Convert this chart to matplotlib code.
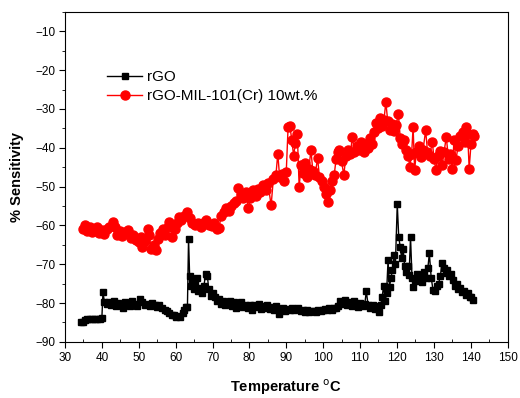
import matplotlib
matplotlib.use("Agg")
import matplotlib.pyplot as plt
from matplotlib.ticker import MultipleLocator

plt.rcParams['font.family'] = ['Liberation Sans', 'DejaVu Sans']

# rGO (black squares)
rgo_temp = [34.3, 34.8, 35.4, 36.0, 36.7, 37.3, 38.0, 38.7, 39.4, 40.0, 40.3, 40.7,
            41.3, 42.0, 42.6, 43.2, 43.8, 44.5, 45.2, 45.8, 46.4, 47.0, 47.7, 48.3,
            49.0, 49.6, 50.3, 51.0, 51.6, 52.3, 53.0, 53.6, 54.3, 55.0, 55.6, 56.3,
            57.0, 57.6, 58.2, 58.9, 59.5, 60.1, 60.7, 61.3, 61.9, 62.4, 62.8, 63.2,
            63.5, 63.8, 64.1, 64.5, 64.9, 65.3, 65.8, 66.2, 66.7, 67.2, 67.7, 68.1,
            68.6, 69.0, 69.5, 70.0, 70.6, 71.1, 71.7, 72.3, 72.9, 73.5, 74.1, 74.7,
            75.3, 75.9, 76.5, 77.1, 77.7, 78.3, 78.9, 79.5, 80.1, 80.7, 81.3, 81.9,
            82.5, 83.1, 83.7, 84.3, 84.9, 85.5, 86.1, 86.7, 87.3, 87.9, 88.5, 89.1,
            89.7, 90.3, 90.9, 91.5, 92.1, 92.7, 93.3, 93.9, 94.5, 95.1, 95.7, 96.3,
            96.9, 97.5, 98.1, 98.7, 99.3, 99.9, 100.5, 101.1, 101.7, 102.3, 102.9, 103.5,
            104.1, 104.7, 105.3, 105.9, 106.5, 107.1, 107.7, 108.3, 108.9, 109.5, 110.1, 110.7,
            111.3, 111.7, 112.2, 112.8, 113.4, 114.0, 114.6, 115.2, 115.6, 116.0, 116.4, 116.8,
            117.2, 117.6, 118.0, 118.4, 118.8, 119.2, 119.6, 120.1, 120.5, 120.9, 121.3, 121.7,
            122.1, 122.5, 122.9, 123.3, 123.7, 124.1, 124.5, 124.9, 125.4, 125.9, 126.4, 126.9,
            127.4, 127.9, 128.4, 128.8, 129.3, 129.8, 130.3, 130.8, 131.3, 131.8, 132.2, 132.7,
            133.2, 133.7, 134.2, 134.7, 135.2, 135.7, 136.2, 136.7, 137.2, 137.7, 138.2, 138.7,
            139.2, 139.7, 140.2, 140.7]
rgo_sens = [-85.0, -84.8, -84.3, -84.2, -84.2, -84.1, -84.1, -84.0, -84.0, -83.8, -77.2, -79.8,
            -80.2, -79.6, -80.5, -79.5, -80.8, -80.0, -80.5, -81.2, -79.8, -80.3, -80.8, -79.5,
            -80.2, -80.8, -79.0, -79.7, -80.5, -80.2, -80.8, -80.0, -80.5, -81.0, -80.5, -81.2,
            -81.8, -82.0, -82.5, -83.2, -83.0, -83.6, -83.3, -83.5, -82.6, -81.8, -80.9, -81.0,
            -63.4, -73.0, -75.5, -74.5, -76.5, -75.2, -73.5, -77.0, -76.2, -77.5, -75.5, -72.5,
            -73.0, -76.5, -78.2, -77.5, -78.5, -79.5, -79.0, -80.2, -79.4, -80.5, -80.0, -79.4,
            -80.8, -79.6, -81.3, -80.5, -79.8, -81.0, -80.4, -81.4, -80.6, -81.8, -80.5, -81.0,
            -80.2, -81.5, -80.8, -81.2, -80.6, -81.6, -81.0, -81.8, -80.8, -82.8, -81.5, -81.2,
            -82.0, -81.5, -81.8, -81.2, -81.9, -81.6, -81.4, -82.0, -81.7, -82.2, -81.8, -82.4,
            -82.0, -82.1, -82.2, -81.9, -82.0, -81.8, -81.6, -81.9, -81.4, -81.7, -81.2, -81.4,
            -80.8, -79.5, -80.2, -79.2, -80.6, -79.8, -80.8, -79.5, -80.2, -81.0, -80.0, -80.8,
            -80.3, -76.9, -80.6, -81.2, -80.4, -81.5, -80.7, -82.2, -80.5, -78.5, -75.5, -79.5,
            -77.5, -69.0, -75.8, -73.5, -71.5, -67.5, -70.0, -54.5, -63.0, -65.5, -68.5, -66.0,
            -70.5, -72.0, -70.5, -72.8, -63.0, -73.5, -75.8, -74.0, -72.5, -74.2, -73.0, -74.5,
            -72.0, -73.5, -71.0, -67.2, -73.5, -76.6, -77.0, -75.5, -75.0, -73.0, -69.8, -71.0,
            -72.2, -71.5, -73.0, -72.5, -74.0, -75.5, -75.0, -76.5, -76.0, -77.2, -77.0, -78.0,
            -77.5, -78.5, -78.4, -79.2]

# rGO-MIL-101(Cr) 10wt.% (red circles)
mil_temp = [35.0, 35.5, 36.0, 36.7, 37.3, 38.0, 38.7, 39.3, 40.0, 40.7, 41.3, 42.0,
            42.9, 43.5, 44.2, 44.8, 45.5, 46.2, 47.0, 47.9, 48.5, 49.2, 50.0, 50.5,
            51.0, 51.7, 52.4, 52.8, 53.3, 54.0, 54.6, 55.2, 55.8, 56.5, 57.2, 57.8,
            58.2, 59.0, 59.7, 60.4, 60.9, 61.5, 62.2, 63.1, 63.8, 64.5, 65.2, 66.0,
            66.8, 67.5, 68.3, 69.0, 69.8, 70.5, 71.2, 71.8, 72.3, 73.0, 73.7, 74.4,
            75.1, 75.8, 76.5, 77.0, 77.6, 78.3, 79.0, 79.7, 80.3, 81.0, 81.7, 82.4,
            83.0, 83.7, 84.4, 85.0, 85.9, 86.5, 87.2, 87.7, 88.2, 88.8, 89.4, 90.0,
            90.5, 91.0, 91.5, 92.0, 92.5, 93.0, 93.5, 94.0, 94.5, 95.0, 95.5, 96.1,
            96.7, 97.2, 97.8, 98.5, 99.0, 99.6, 100.2, 100.8, 101.4, 101.9, 102.5, 103.0,
            103.5, 104.0, 104.4, 105.0, 105.6, 106.2, 106.8, 107.4, 107.9, 108.5, 109.1, 109.7,
            110.3, 111.0, 111.6, 112.2, 112.8, 113.3, 113.8, 114.3, 114.9, 115.4, 116.0, 116.5,
            117.0, 117.5, 118.0, 118.6, 119.2, 119.8, 120.4, 120.9, 121.5, 122.0, 122.6, 123.1,
            123.5, 124.0, 124.4, 124.8, 125.3, 125.9, 126.5, 127.1, 127.8, 128.3, 128.9, 129.6,
            130.1, 130.6, 131.1, 131.7, 132.3, 132.8, 133.4, 134.0, 134.5, 135.0, 135.5, 136.0,
            136.6, 137.2, 137.8, 138.4, 138.7, 139.2, 139.6, 140.1, 140.6, 141.0]
mil_sens = [-61.0, -60.0, -61.5, -60.3, -61.8, -61.0, -60.5, -62.0, -61.3, -62.3, -61.0, -60.5,
            -59.1, -60.5, -62.5, -61.5, -62.6, -61.8, -61.2, -63.3, -62.5, -63.8, -64.2, -63.0,
            -65.5, -64.0, -60.8, -62.5, -66.0, -65.0, -66.3, -63.5, -62.0, -61.0, -62.5, -60.5,
            -59.1, -62.9, -61.0, -59.5, -57.8, -58.5, -57.5, -56.5, -58.0, -59.5, -60.0, -59.5,
            -60.5, -59.3, -58.6, -59.8, -60.2, -59.5, -61.0, -60.7, -57.5, -56.5, -55.5, -56.2,
            -55.0, -54.3, -53.8, -50.4, -52.0, -53.0, -51.5, -55.5, -53.0, -51.0, -52.5, -50.5,
            -51.5, -49.5, -50.8, -49.0, -54.8, -48.0, -47.0, -41.5, -47.5, -46.8, -48.5, -46.2,
            -34.6, -34.5, -38.0, -42.0, -38.8, -36.5, -50.1, -44.5, -46.5, -44.0, -47.6, -45.5,
            -40.6, -46.0, -47.0, -42.7, -47.5, -48.5, -50.0, -52.0, -53.9, -51.0, -48.5, -47.0,
            -43.0, -41.0, -40.6, -43.5, -47.0, -42.0, -40.5, -41.5, -37.2, -41.0, -39.5, -40.5,
            -38.5, -41.2, -39.0, -40.0, -37.5, -39.0, -36.0, -33.5, -35.0, -32.2, -34.5, -32.8,
            -28.2, -33.0, -35.5, -33.8, -35.8, -34.0, -31.2, -37.4, -39.0, -38.0, -40.6, -42.0,
            -45.0, -41.5, -34.6, -45.8, -41.0, -39.5, -42.4, -40.5, -35.5, -41.0, -42.0, -38.5,
            -43.0, -45.8, -42.0, -40.8, -44.5, -41.0, -37.2, -43.0, -41.5, -45.5, -38.0, -43.2,
            -39.5, -37.0, -36.0, -38.5, -34.6, -36.5, -45.4, -39.0, -36.5, -37.0]

fig = plt.figure(figsize=(5.2, 3.98), dpi=100)
ax = fig.add_axes([0.125, 0.141, 0.851, 0.829])

ax.plot(rgo_temp, rgo_sens, color='black', marker='s', markersize=5,
        linewidth=1.0, label='rGO')
ax.plot(mil_temp, mil_sens, color='red', marker='o', markersize=6.5,
        linewidth=1.0, label='rGO-MIL-101(Cr) 10wt.%')

ax.set_xlim(30, 150)
ax.set_ylim(-90, -5)
ax.xaxis.set_major_locator(MultipleLocator(10))
ax.xaxis.set_minor_locator(MultipleLocator(5))
ax.yaxis.set_major_locator(MultipleLocator(10))
ax.yaxis.set_minor_locator(MultipleLocator(5))
ax.tick_params(axis='x', which='major', direction='out', length=4, labelsize=8.5, pad=3)
ax.tick_params(axis='x', which='minor', direction='in', length=2)
ax.tick_params(axis='y', which='major', direction='out', length=4, labelsize=8.5, pad=3)
ax.tick_params(axis='y', which='minor', direction='out', length=2)

ax.set_xlabel('Temperature $^{\\mathrm{o}}$C', fontsize=10.5, fontweight='bold', labelpad=10)
ax.set_ylabel('% Sensitivity', fontsize=10.5, fontweight='bold', labelpad=8)

ax.legend(loc='upper left', bbox_to_anchor=(0.095, 0.823), frameon=False,
          fontsize=11, borderpad=0, borderaxespad=0, handlelength=2.3,
          handletextpad=0.3, labelspacing=0.3)

fig.savefig('out.png', dpi=100)
